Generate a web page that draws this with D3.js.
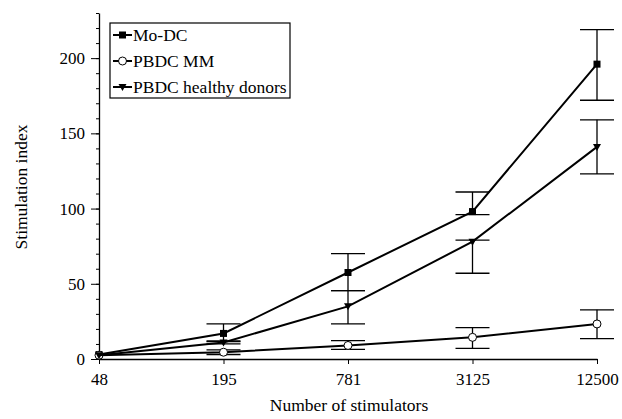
<!DOCTYPE html>
<meta charset="utf-8">
<script src="https://d3js.org/d3.v7.min.js"></script>
<div id="chart"></div>
<script>
// data
var stimulators = ["48", "195", "781", "3125", "12500"];

var moDC = [3, 17, 57.5, 98, 196];
var moDCLow = [3, 11.6, 45.5, 96, 172];
var moDCHigh = [3, 23.3, 70, 111, 219];

var pbdcMM = [2.5, 4.5, 9, 14.4, 23.3];
var pbdcMMLow = [2.5, 3, 6.4, 7.1, 13.5];
var pbdcMMHigh = [2.5, 6, 12.2, 20.9, 32.7];

var pbdcHealthy = [2.5, 11, 35, 78, 141];
var pbdcHealthyLow = [2.5, 10, 23.3, 57, 123];
var pbdcHealthyHigh = [2.5, 12, 45.5, 79, 159];

var yMajorTicks = [0, 50, 100, 150, 200];

var series = [
  {name: "Mo-DC", values: moDC, low: moDCLow, high: moDCHigh, marker: "square"},
  {name: "PBDC MM", values: pbdcMM, low: pbdcMMLow, high: pbdcMMHigh, marker: "circle"},
  {name: "PBDC healthy donors", values: pbdcHealthy, low: pbdcHealthyLow, high: pbdcHealthyHigh, marker: "triangle"}
];

var margin = {top: 13, right: 25, bottom: 60, left: 99},
    width = 622 - margin.left - margin.right,
    height = 419 - margin.top - margin.bottom;

d3.select("body").style("margin", "0px");

var root = d3.select("#chart")
  .append("svg")
    .attr("width", 622)
    .attr("height", 419)
    .attr("font-family", "Liberation Serif");

var svg = root.append("g")
    .attr("transform", "translate(" + margin.left + "," + margin.top + ")");

var x = d3.scalePoint()
  .domain(stimulators)
  .range([0, width]);

var y = d3.scaleLinear()
  .domain([0, 230])
  .range([height, 0]);

// y axis: minor ticks every 10, labels every 50
svg.append("g")
  .call(d3.axisLeft(y).tickValues(d3.range(0, 231, 10)).tickSize(3).tickFormat(""))
  .call(function(g) { g.select(".domain").remove(); })
  .selectAll("line").attr("stroke", "#000");
var yAxis = svg.append("g")
  .call(d3.axisLeft(y).tickValues(yMajorTicks).tickSize(8).tickSizeOuter(0).tickPadding(6))
  .attr("font-family", "Liberation Serif")
  .attr("font-size", 17);
yAxis.select(".domain").attr("stroke-width", 1.3);

// x axis
var xAxis = svg.append("g")
  .attr("transform", "translate(0," + height + ")")
  .call(d3.axisBottom(x).tickSize(5).tickSizeOuter(0).tickPadding(9))
  .attr("font-family", "Liberation Serif")
  .attr("font-size", 17);
xAxis.select(".domain").attr("stroke-width", 1.3);

// axis labels
svg.append("text")
  .attr("x", width / 2 + 1)
  .attr("y", height + 52)
  .attr("text-anchor", "middle")
  .attr("font-size", 17.5)
  .text("Number of stimulators");

svg.append("text")
  .attr("transform", "translate(-72," + (height / 2 + 1) + ") rotate(-90)")
  .attr("text-anchor", "middle")
  .attr("font-size", 17.5)
  .text("Stimulation index");

var line = d3.line()
  .x(function(d, i) { return x(stimulators[i]); })
  .y(function(d) { return y(d); });

function drawMarker(g, type, cx, cy) {
  if (type === "square") {
    g.append("rect").attr("x", cx - 3.5).attr("y", cy - 3.5)
      .attr("width", 7).attr("height", 7).attr("fill", "#000");
  } else if (type === "circle") {
    g.append("circle").attr("cx", cx).attr("cy", cy).attr("r", 4)
      .attr("fill", "#fff").attr("stroke", "#000").attr("stroke-width", 1);
  } else {
    g.append("path")
      .attr("d", "M" + (cx - 4) + "," + (cy - 3) + "L" + (cx + 4) + "," + (cy - 3) + "L" + cx + "," + (cy + 4) + "Z")
      .attr("fill", "#000");
  }
}

var capHalf = 17;

series.forEach(function(s) {
  var g = svg.append("g");
  // error bars
  s.values.forEach(function(v, i) {
    if (s.low[i] === s.high[i]) return;
    var cx = x(stimulators[i]);
    g.append("line").attr("x1", cx).attr("x2", cx)
      .attr("y1", y(s.low[i])).attr("y2", y(s.high[i]))
      .attr("stroke", "#000").attr("stroke-width", 1.3);
    [s.low[i], s.high[i]].forEach(function(e) {
      g.append("line").attr("x1", cx - capHalf).attr("x2", cx + capHalf)
        .attr("y1", y(e)).attr("y2", y(e))
        .attr("stroke", "#000").attr("stroke-width", 1.3);
    });
  });
  // line
  g.append("path")
    .datum(s.values)
    .attr("fill", "none")
    .attr("stroke", "#000")
    .attr("stroke-width", 2)
    .attr("d", line);
  // markers
  s.values.forEach(function(v, i) {
    drawMarker(g, s.marker, x(stimulators[i]), y(v));
  });
});

// legend
var legend = svg.append("g").attr("transform", "translate(11,10)");
legend.append("rect")
  .attr("width", 180).attr("height", 75)
  .attr("fill", "#fff").attr("stroke", "#000").attr("stroke-width", 1.2);

series.forEach(function(s, i) {
  var ly = 12 + i * 26;
  legend.append("line")
    .attr("x1", 3).attr("x2", 22).attr("y1", ly).attr("y2", ly)
    .attr("stroke", "#000").attr("stroke-width", 2);
  drawMarker(legend, s.marker, 12.5, ly);
  legend.append("text")
    .attr("x", 23).attr("y", ly + 6)
    .attr("font-size", 17.5)
    .text(s.name);
});
</script>
